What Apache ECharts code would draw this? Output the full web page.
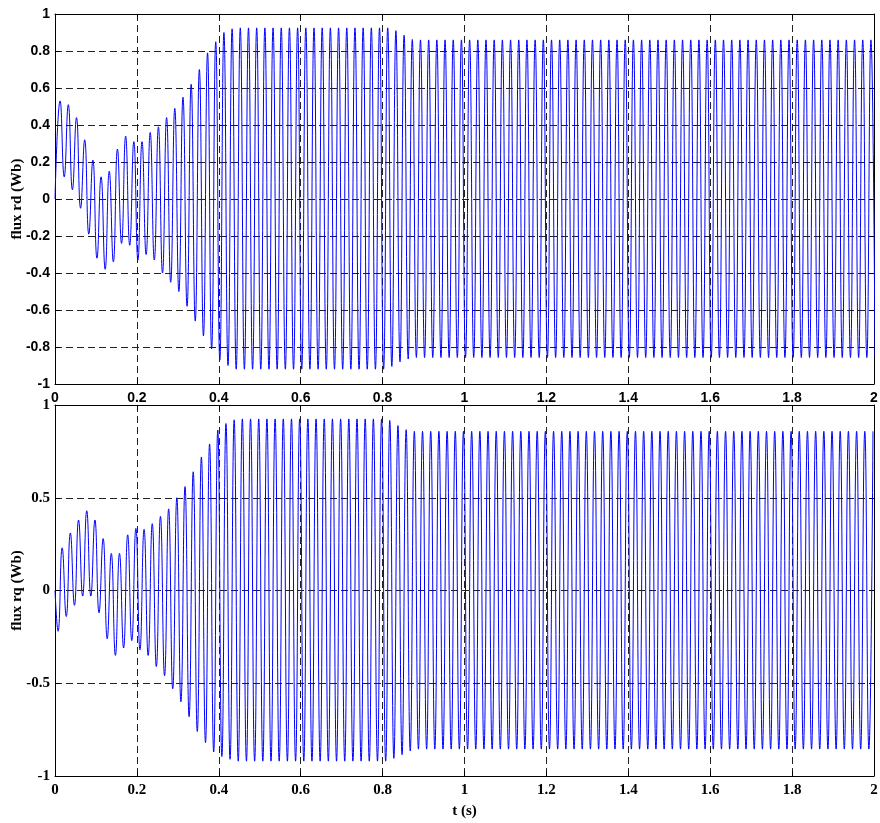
<!DOCTYPE html>
<html>
<head>
<meta charset="utf-8">
<title>Rotor flux components</title>
<script src="https://cdn.jsdelivr.net/npm/echarts@6/dist/echarts.min.js"></script>
<style>
  html, body { margin: 0; padding: 0; background: #fff; }
  #chart { width: 880px; height: 823px; }
</style>
</head>
<body>
<div id="chart"></div>
<script>
// Rotor flux oscillation, sampled at its extrema (one peak and one trough per cycle)
const PERIOD = 0.02;              // s, one electrical cycle
const RD_FIRST_PEAK_T = 0.0125;   // s, first maximum of flux rd
const RQ_FIRST_TROUGH_T = 0.0075; // s, first minimum of flux rq

const xTicks = [0, 0.2, 0.4, 0.6, 0.8, 1, 1.2, 1.4, 1.6, 1.8, 2];
const rdTicks = [-1, -0.8, -0.6, -0.4, -0.2, 0, 0.2, 0.4, 0.6, 0.8, 1];
const rqTicks = [-1, -0.5, 0, 0.5, 1];

// flux rd (Wb): maxima and minima, cycle by cycle
const rdPeaks = [
  0.53, 0.51, 0.44, 0.32, 0.21, 0.12, 0.15, 0.27, 0.34, 0.31,
  0.31, 0.36, 0.39, 0.44, 0.49, 0.55, 0.62, 0.70, 0.79, 0.85,
  0.90, 0.92, 0.925, 0.925, 0.925, 0.925, 0.925, 0.925, 0.925, 0.925,
  0.925, 0.925, 0.925, 0.925, 0.925, 0.925, 0.925, 0.925, 0.925, 0.925,
  0.925, 0.91, 0.885, 0.862, 0.86, 0.86, 0.86, 0.86, 0.86, 0.86,
  0.86, 0.86, 0.86, 0.86, 0.86, 0.86, 0.86, 0.86, 0.86, 0.86,
  0.86, 0.86, 0.86, 0.86, 0.86, 0.86, 0.86, 0.86, 0.86, 0.86,
  0.86, 0.86, 0.86, 0.86, 0.86, 0.86, 0.86, 0.86, 0.86, 0.86,
  0.86, 0.86, 0.86, 0.86, 0.86, 0.86, 0.86, 0.86, 0.86, 0.86,
  0.86, 0.86, 0.86, 0.86, 0.86, 0.86, 0.86, 0.86, 0.86, 0.86
];
const rdTroughs = [
  0.12, 0.05, -0.05, -0.19, -0.32, -0.38, -0.34, -0.24, -0.25, -0.33,
  -0.30, -0.33, -0.40, -0.45, -0.50, -0.58, -0.66, -0.74, -0.81, -0.87,
  -0.90, -0.92, -0.92, -0.92, -0.92, -0.92, -0.92, -0.92, -0.92, -0.92,
  -0.92, -0.92, -0.92, -0.92, -0.92, -0.92, -0.92, -0.92, -0.92, -0.92,
  -0.905, -0.88, -0.865, -0.857, -0.857, -0.857, -0.857, -0.857, -0.857, -0.857,
  -0.857, -0.857, -0.857, -0.857, -0.857, -0.857, -0.857, -0.857, -0.857, -0.857,
  -0.857, -0.857, -0.857, -0.857, -0.857, -0.857, -0.857, -0.857, -0.857, -0.857,
  -0.857, -0.857, -0.857, -0.857, -0.857, -0.857, -0.857, -0.857, -0.857, -0.857,
  -0.857, -0.857, -0.857, -0.857, -0.857, -0.857, -0.857, -0.857, -0.857, -0.857,
  -0.857, -0.857, -0.857, -0.857, -0.857, -0.857, -0.857, -0.857, -0.857, -0.857
];

// flux rq (Wb): minima and maxima, cycle by cycle
const rqTroughs = [
  -0.22, -0.14, -0.08, -0.03, -0.03, -0.12, -0.26, -0.35, -0.31, -0.27,
  -0.32, -0.35, -0.41, -0.46, -0.53, -0.60, -0.68, -0.76, -0.82, -0.87,
  -0.895, -0.91, -0.92, -0.92, -0.92, -0.92, -0.92, -0.92, -0.92, -0.92,
  -0.92, -0.92, -0.92, -0.92, -0.92, -0.92, -0.92, -0.92, -0.92, -0.92,
  -0.92, -0.905, -0.885, -0.865, -0.855, -0.855, -0.855, -0.855, -0.855, -0.855,
  -0.855, -0.855, -0.855, -0.855, -0.855, -0.855, -0.855, -0.855, -0.855, -0.855,
  -0.855, -0.855, -0.855, -0.855, -0.855, -0.855, -0.855, -0.855, -0.855, -0.855,
  -0.855, -0.855, -0.855, -0.855, -0.855, -0.855, -0.855, -0.855, -0.855, -0.855,
  -0.855, -0.855, -0.855, -0.855, -0.855, -0.855, -0.855, -0.855, -0.855, -0.855,
  -0.855, -0.855, -0.855, -0.855, -0.855, -0.855, -0.855, -0.855, -0.855, -0.855
];
const rqPeaks = [
  0.23, 0.31, 0.38, 0.43, 0.38, 0.28, 0.20, 0.20, 0.30, 0.335,
  0.33, 0.36, 0.40, 0.44, 0.50, 0.56, 0.64, 0.72, 0.79, 0.865,
  0.90, 0.92, 0.925, 0.925, 0.925, 0.925, 0.925, 0.925, 0.925, 0.925,
  0.925, 0.925, 0.925, 0.925, 0.925, 0.925, 0.925, 0.925, 0.925, 0.925,
  0.917, 0.889, 0.867, 0.858, 0.858, 0.858, 0.858, 0.858, 0.858, 0.858,
  0.858, 0.858, 0.858, 0.858, 0.858, 0.858, 0.858, 0.858, 0.858, 0.858,
  0.858, 0.858, 0.858, 0.858, 0.858, 0.858, 0.858, 0.858, 0.858, 0.858,
  0.858, 0.858, 0.858, 0.858, 0.858, 0.858, 0.858, 0.858, 0.858, 0.858,
  0.858, 0.858, 0.858, 0.858, 0.858, 0.858, 0.858, 0.858, 0.858, 0.858,
  0.858, 0.858, 0.858, 0.858, 0.858, 0.858, 0.858, 0.858, 0.858, 0.858
];

// Interleave the two extremum lists into [t, value] pairs, starting from rest at t = 0
function extremaSeries(firstT, first, second) {
  const pts = [[0, 0]];
  for (let k = 0; k < first.length; k++) {
    const t = firstT + k * PERIOD;
    pts.push([+t.toFixed(4), first[k]]);
    pts.push([+(t + PERIOD / 2).toFixed(4), second[k]]);
  }
  return pts;
}

const rdData = extremaSeries(RD_FIRST_PEAK_T, rdPeaks, rdTroughs);
const rqData = extremaSeries(RQ_FIRST_TROUGH_T, rqTroughs, rqPeaks);

const SANS = 'Liberation Sans, Arial, sans-serif';
const SERIF = 'Liberation Serif, Times New Roman, serif';
const frame = { show: true, onZero: false, lineStyle: { color: '#000', width: 1 } };
const dashed = { show: true, lineStyle: { color: '#222', width: 1, type: [7, 4] } };
const tickIn = { show: true, inside: true, length: 5, lineStyle: { color: '#000' } };
const clean = v => String(+(+v).toFixed(4));
const stepOf = ticks => +(ticks[1] - ticks[0]).toFixed(4);

function xAxes(gridIndex, font, withName) {
  const base = {
    gridIndex, type: 'value', min: xTicks[0], max: xTicks[xTicks.length - 1],
    interval: stepOf(xTicks), z: 3, axisLine: frame, axisTick: tickIn
  };
  return [
    Object.assign({}, base, {
      position: 'bottom',
      splitLine: dashed,
      axisLabel: {
        color: '#000', fontFamily: font, fontWeight: 'bold',
        fontSize: font === SANS ? 14 : 15, margin: 7, formatter: clean
      },
      name: withName ? 't (s)' : '',
      nameLocation: 'middle', nameGap: 28, nameMoveOverlap: false,
      nameTextStyle: { color: '#000', fontFamily: SERIF, fontWeight: 'bold', fontSize: 15 }
    }),
    Object.assign({}, base, {
      position: 'top', splitLine: { show: false }, axisLabel: { show: false }
    })
  ];
}

function yAxes(gridIndex, ticks, font, name) {
  const base = {
    gridIndex, type: 'value', min: ticks[0], max: ticks[ticks.length - 1],
    interval: stepOf(ticks), z: 3, axisLine: frame, axisTick: tickIn
  };
  return [
    Object.assign({}, base, {
      position: 'left',
      splitLine: dashed,
      axisLabel: {
        color: '#000', fontFamily: font, fontWeight: 'bold',
        fontSize: font === SANS ? 14 : 15, margin: 5, formatter: clean
      },
      name, nameLocation: 'middle', nameGap: 30, nameRotate: 90, nameMoveOverlap: false,
      nameTextStyle: { color: '#000', fontFamily: SERIF, fontWeight: 'bold', fontSize: 15 }
    }),
    Object.assign({}, base, {
      position: 'right', splitLine: { show: false }, axisLabel: { show: false }
    })
  ];
}

const chart = echarts.init(document.getElementById('chart'), null, { renderer: 'canvas' });
chart.setOption({
  animation: false,
  backgroundColor: '#fff',
  grid: [
    { left: 55, right: 6, top: 14, height: 370, containLabel: false, outerBoundsMode: 'none' },
    { left: 55, right: 6, top: 405, height: 371, containLabel: false, outerBoundsMode: 'none' }
  ],
  xAxis: [].concat(xAxes(0, SANS, false), xAxes(1, SERIF, true)),
  yAxis: [].concat(yAxes(0, rdTicks, SANS, 'flux rd (Wb)'), yAxes(1, rqTicks, SERIF, 'flux rq (Wb)')),
  series: [
    {
      type: 'line', xAxisIndex: 0, yAxisIndex: 0, data: rdData,
      smooth: 0.5, showSymbol: false, symbol: 'none', clip: true,
      lineStyle: { color: '#0000ff', width: 1 }
    },
    {
      type: 'line', xAxisIndex: 2, yAxisIndex: 2, data: rqData,
      smooth: 0.5, showSymbol: false, symbol: 'none', clip: true,
      lineStyle: { color: '#0000ff', width: 1 }
    }
  ]
});
</script>
</body>
</html>
